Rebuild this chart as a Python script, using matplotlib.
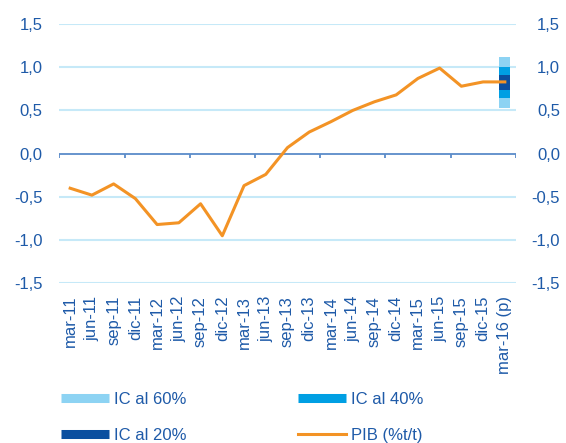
import matplotlib
matplotlib.use("Agg")
import matplotlib.pyplot as plt
from matplotlib.lines import Line2D
import numpy as np

plt.rcParams['font.family'] = ['Liberation Sans', 'DejaVu Sans']

categories = ["mar-11", "jun-11", "sep-11", "dic-11", "mar-12", "jun-12", "sep-12",
              "dic-12", "mar-13", "jun-13", "sep-13", "dic-13", "mar-14", "jun-14",
              "sep-14", "dic-14", "mar-15", "jun-15", "sep-15", "dic-15", "mar-16 (p)"]
pib = [-0.40, -0.48, -0.35, -0.52, -0.82, -0.80, -0.58, -0.95, -0.37, -0.24,
       0.07, 0.25, 0.37, 0.50, 0.60, 0.68, 0.87, 0.99, 0.78, 0.83, 0.83]

# Confidence intervals for the last point (low, high)
ic60 = (0.53, 1.12)
ic40 = (0.64, 1.00)
ic20 = (0.74, 0.91)

yticks = [-1.5, -1.0, -0.5, 0.0, 0.5, 1.0, 1.5]
ytick_labels = ["-1,5", "-1,0", "-0,5", "0,0", "0,5", "1,0", "1,5"]

c_text = '#1E5AA8'
c_grid = '#C6E9F8'
c_axis = '#5B8BC9'
c_orange = '#F39325'
c60 = '#8DD3F3'
c40 = '#009FE3'
c20 = '#0B4F9F'

fig = plt.figure(figsize=(5.66, 4.43), dpi=100)
ax = fig.add_axes([59.3/566, 1-283.3/443, (515.7-59.3)/566, (283.3-24)/443])

n = len(categories)
x = np.arange(n)
ax.set_xlim(-0.5, n - 0.5)
ax.set_ylim(-1.5, 1.5)

for yv in yticks:
    if yv != 0:
        ax.axhline(yv, color=c_grid, lw=1.5, zorder=0)
ax.axhline(0, color=c_axis, lw=1.3, zorder=1)
bounds = np.arange(-0.5, n, 3)
ax.vlines(bounds, -0.05, 0, color=c_axis, lw=1.3, zorder=1)

last = n - 1
w = 0.5
ax.bar(last, ic60[1]-ic60[0], bottom=ic60[0], width=w, color=c60, zorder=2)
ax.bar(last, ic40[1]-ic40[0], bottom=ic40[0], width=w, color=c40, zorder=3)
ax.bar(last, ic20[1]-ic20[0], bottom=ic20[0], width=w, color=c20, zorder=4)

ax.plot(x, pib, color=c_orange, lw=2.2, zorder=5)

for s in ax.spines.values():
    s.set_visible(False)

ax.set_yticks(yticks)
ax.set_yticklabels(ytick_labels)
ax.tick_params(axis='y', length=0, pad=12, labelsize=12, labelcolor=c_text)
ax.set_xticks(x)
ax.set_xticklabels(categories, rotation=90, va='top', ha='center')
ax.tick_params(axis='x', length=0, pad=9, labelsize=12, labelcolor=c_text)

ax2 = ax.twinx()
ax2.set_ylim(-1.5, 1.5)
for s in ax2.spines.values():
    s.set_visible(False)
ax2.set_yticks(yticks)
ax2.set_yticklabels(ytick_labels, ha='right')
ax2.tick_params(axis='y', length=0, pad=32, labelsize=12, labelcolor=c_text)

handles = [Line2D([], [], color=c60, lw=6.5, solid_capstyle='butt'),
           Line2D([], [], color=c40, lw=6.5, solid_capstyle='butt'),
           Line2D([], [], color=c20, lw=6.5, solid_capstyle='butt'),
           Line2D([], [], color=c_orange, lw=2.2)]
labels = ["IC al 60%", "IC al 40%", "IC al 20%", "PIB (%t/t)"]
# order for ncol=2 fill column-wise: col1 = 60%, 20%; col2 = 40%, PIB
order = [0, 2, 1, 3]
leg = fig.legend([handles[i] for i in order], [labels[i] for i in order],
                 ncol=2, loc='upper left', bbox_to_anchor=(61/566, 1-392/443),
                 frameon=False, fontsize=12, handlelength=2.88, handletextpad=0.3,
                 columnspacing=6.7, labelspacing=1.25, borderpad=0, borderaxespad=0)
for t in leg.get_texts():
    t.set_color(c_text)

fig.savefig("out.png", dpi=100)
